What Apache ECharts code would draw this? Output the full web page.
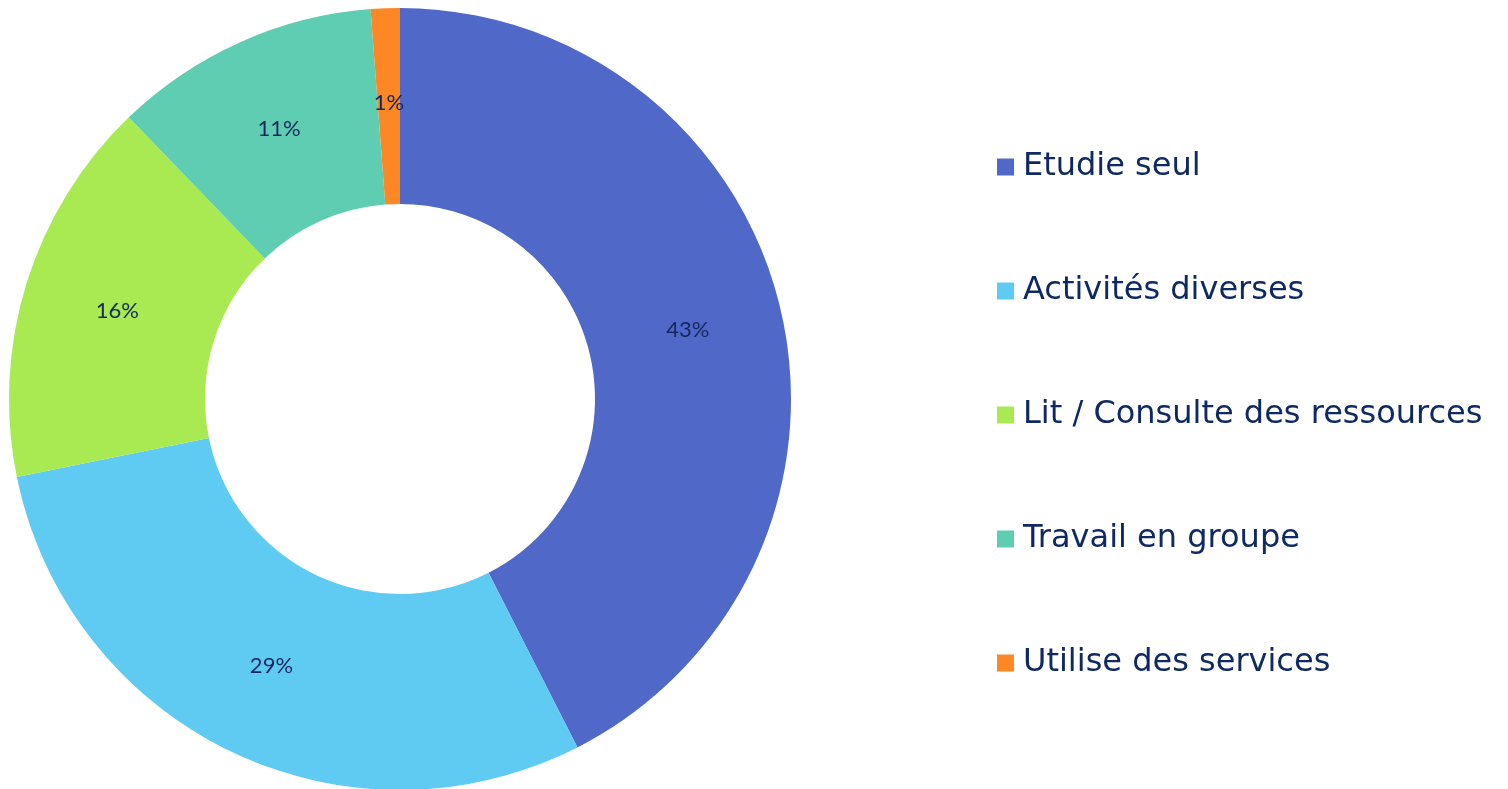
<!DOCTYPE html>
<html>
<head>
<meta charset="utf-8">
<script src="https://cdn.jsdelivr.net/npm/echarts@6/dist/echarts.min.js"></script>
<style>
  html, body { margin: 0; padding: 0; background: #fff; }
  #chart { width: 1508px; height: 789px; }
</style>
</head>
<body>
<div id="chart"></div>
<script>
// categories and shares (percent)
const categories = ['Etudie seul', 'Activités diverses', 'Lit / Consulte des ressources', 'Travail en groupe', 'Utilise des services']
const shares = [42.5, 29.3, 16.0, 11.0, 1.2]
const colors = ['#5068c8', '#5fcbf3', '#a9ea52', '#5ecdb1', '#fd8724']

const chart = echarts.init(document.getElementById('chart'))
chart.setOption({
  animation: false,
  color: colors,
  legend: {
    orient: 'vertical',
    left: 992,
    top: 146,
    icon: 'rect',
    itemWidth: 17,
    itemHeight: 17,
    itemGap: 92,
    data: categories,
    textStyle: {
      fontFamily: 'DejaVu Sans',
      fontSize: 32,
      lineHeight: 32,
      color: '#0f2a62',
      padding: [0, 0, 0, 4]
    }
  },
  series: [
    {
      type: 'pie',
      center: [400, 399],
      radius: [195, 391],
      startAngle: 90,
      clockwise: true,
      label: {
        show: true,
        position: 'inner',
        formatter: (p) => Math.round(p.value) + '%',
        fontFamily: 'Lato',
        fontSize: 22,
        color: '#14285f'
      },
      labelLine: { show: false },
      data: categories.map((name, i) => ({ name, value: shares[i] }))
    }
  ]
})
</script>
</body>
</html>
